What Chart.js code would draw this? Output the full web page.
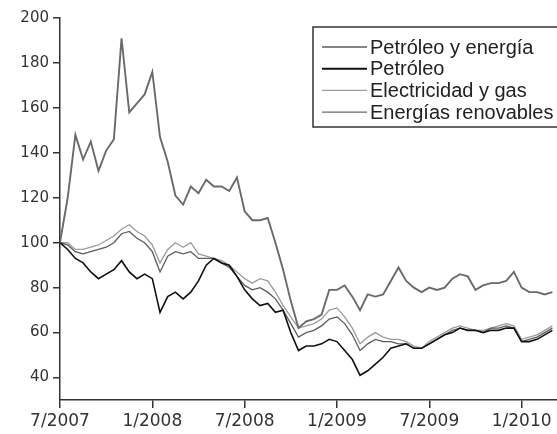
<!DOCTYPE html>
<html>
<head>
<meta charset="utf-8">
<script src="https://cdn.jsdelivr.net/npm/chart.js@4.4.1/dist/chart.umd.min.js"></script>
<style>
  html, body { margin: 0; padding: 0; background: #fff; }
  #wrap { width: 557px; height: 434px; }
</style>
</head>
<body>
<div id="wrap"><canvas id="chart"></canvas></div>
<script>
// months since 7/2007, sampled every half month
var months = [];
for (var i = 0; i <= 64; i++) months.push(i / 2);

var xTickMonths = [0, 6, 12, 18, 24, 30];
var xTickLabels = ['7/2007', '1/2008', '7/2008', '1/2009', '7/2009', '1/2010'];
var yTicks = [40, 60, 80, 100, 120, 140, 160, 180, 200];

var seriesNames = ['Petróleo y energía', 'Petróleo', 'Electricidad y gas', 'Energías renovables'];

var petroleoEnergia = [100, 99, 96, 95, 96, 97, 98, 100, 104, 105, 102, 100, 96, 87, 94, 96,
  95, 96, 93, 93, 93, 91, 89, 85, 81, 79, 80, 78, 75, 70, 64, 58,
  60, 61, 63, 66, 67, 64, 59, 52, 55, 57, 56, 56, 55, 55, 53, 53,
  55, 57, 59, 61, 62, 61, 61, 60, 62, 62, 63, 62, 56, 57, 58, 60, 62];

var petroleo = [100, 97, 93, 91, 87, 84, 86, 88, 92, 87, 84, 86, 84, 69, 76, 78,
  75, 78, 83, 90, 93, 91, 90, 85, 79, 75, 72, 73, 69, 70, 60, 52,
  54, 54, 55, 57, 56, 52, 48, 41, 43, 46, 49, 53, 54, 55, 53, 53,
  55, 57, 59, 60, 62, 61, 61, 60, 61, 61, 62, 62, 56, 56, 57, 59, 61];

var electricidadGas = [100, 100, 97, 97, 98, 99, 101, 103, 106, 108, 105, 103, 99, 91, 97, 100,
  98, 100, 95, 94, 93, 92, 90, 87, 84, 82, 84, 83, 78, 72, 67, 62,
  63, 64, 66, 70, 71, 67, 62, 55, 58, 60, 58, 57, 57, 56, 54, 53,
  56, 58, 60, 62, 63, 62, 61, 61, 62, 63, 64, 63, 57, 58, 59, 61, 63];

var renovables = [100, 120, 148, 137, 145, 132, 141, 146, 191, 158, 162, 166, 176, 147, 136, 121,
  117, 125, 122, 128, 125, 125, 123, 129, 114, 110, 110, 111, 100, 88, 74, 62,
  65, 66, 68, 79, 79, 81, 76, 70, 77, 76, 77, 83, 89, 83, 80, 78,
  80, 79, 80, 84, 86, 85, 79, 81, 82, 82, 83, 87, 80, 78, 78, 77, 78];

var seriesValues = [petroleoEnergia, petroleo, electricidadGas, renovables];
var seriesColors = ['#5c5c5c', '#111111', '#9c9c9c', '#6a6a6a'];
var seriesWidths = [1.3, 1.6, 1.3, 1.9];

function toPoints(values) {
  return values.map(function (v, i) { return { x: months[i], y: v }; });
}

var datasets = seriesNames.map(function (name, k) {
  return {
    label: name,
    data: toPoints(seriesValues[k]),
    borderColor: seriesColors[k],
    borderWidth: seriesWidths[k],
    pointRadius: 0,
    tension: 0,
    fill: false
  };
});
// draw renovables first, black last
var drawOrder = [2, 1, 3, 0];
datasets.forEach(function (d, k) { d.order = drawOrder[k]; });

// legend drawn as a boxed list inside the plot
var legendBox = {
  id: 'legendBox',
  afterDraw: function (chart) {
    var ctx = chart.ctx;
    ctx.save();
    ctx.fillStyle = '#fff';
    ctx.fillRect(313, 27, 260, 100);
    ctx.strokeStyle = '#333';
    ctx.lineWidth = 1.5;
    ctx.strokeRect(313, 27, 260, 100);
    ctx.font = '20px "Liberation Sans", Arial, sans-serif';
    ctx.textBaseline = 'middle';
    chart.data.datasets.forEach(function (ds, k) {
      var y = 47 + k * 21.7;
      ctx.beginPath();
      ctx.strokeStyle = ds.borderColor;
      ctx.lineWidth = k === 1 ? 2 : 1.3;
      ctx.moveTo(322, y);
      ctx.lineTo(367, y);
      ctx.stroke();
      ctx.fillStyle = '#222';
      ctx.fillText(ds.label, 370, y + 1);
    });
    ctx.restore();
  }
};

var ctx = document.getElementById('chart').getContext('2d');
var chart = new Chart(ctx, {
  type: 'line',
  data: { datasets: datasets },
  options: {
    responsive: true,
    maintainAspectRatio: false,
    animation: false,
    layout: { padding: { top: 18, right: 0, left: 0, bottom: 0 } },
    plugins: { legend: { display: false }, tooltip: { enabled: false } },
    scales: {
      x: {
        type: 'linear',
        min: 0,
        max: 32.3,
        afterBuildTicks: function (scale) {
          scale.ticks = xTickMonths.map(function (m) { return { value: m }; });
        },
        afterFit: function (scale) { scale.height = 34; },
        ticks: {
          autoSkip: false,
          maxRotation: 0,
          padding: 3,
          color: '#333',
          font: { family: '"DejaVu Sans", sans-serif', size: 17 },
          callback: function (v) {
            var idx = xTickMonths.indexOf(v);
            return idx >= 0 ? xTickLabels[idx] : '';
          }
        },
        grid: { drawOnChartArea: false, color: '#333', tickLength: 8, lineWidth: 1.5 },
        border: { color: '#333', width: 1.5 }
      },
      y: {
        min: 30,
        max: 200,
        afterBuildTicks: function (scale) {
          scale.ticks = yTicks.map(function (v) { return { value: v }; });
        },
        afterFit: function (scale) { scale.width = 60; },
        ticks: {
          padding: 4,
          color: '#333',
          font: { family: '"DejaVu Sans", sans-serif', size: 15 }
        },
        grid: { drawOnChartArea: false, color: '#333', tickLength: 7, lineWidth: 1.5 },
        border: { color: '#333', width: 1.5 }
      }
    }
  },
  plugins: [legendBox]
});
</script>
</body>
</html>
